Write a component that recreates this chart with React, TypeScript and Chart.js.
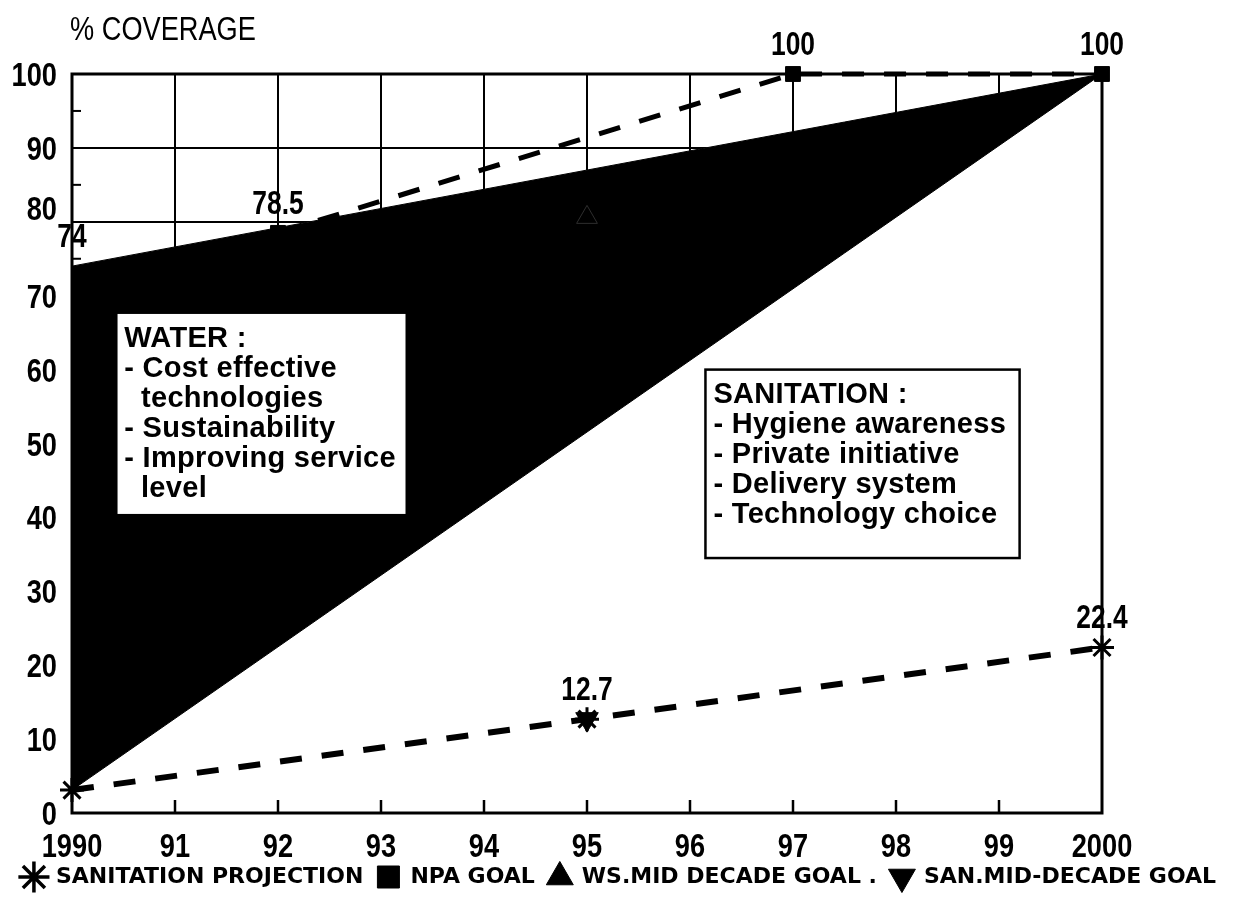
import React, { useEffect, useRef } from 'react';
import { Chart, registerables } from 'chart.js';

Chart.register(...registerables);

// ---------- data ----------
const years = [1990, 1991, 1992, 1993, 1994, 1995, 1996, 1997, 1998, 1999, 2000];
const xTickLabels = ['1990', '91', '92', '93', '94', '95', '96', '97', '98', '99', '2000'];
const yTicks = [0, 10, 20, 30, 40, 50, 60, 70, 80, 90, 100];
const yTickLabels = ['0', '10', '20', '30', '40', '50', '60', '70', '80', '90', '100'];
const raisedTick = 80;

const waterYears = [1990, 2000];
const waterUpper = [74, 100];
const waterLabels = ['74', ''];
const sanTarget = [3.1, 100];

const sanYears = [1990, 1995, 2000];
const sanProjection = [3.1, 12.7, 22.4];
const sanLabels = ['', '12.7', '22.4'];

const npaYears = [1992, 1997, 2000];
const npaGoal = [78.5, 100, 100];
const npaLabels = ['78.5', '100', '100'];

const wsYears = [1995];
const wsGoal = [80.6];

const sanMidYears = [1995];
const sanMidGoal = [12.7];

const legendNames = ['SANITATION PROJECTION', 'NPA GOAL', 'WS.MID DECADE GOAL .', 'SAN.MID-DECADE GOAL'];
const axisTitle = '% COVERAGE';
const waterNotes = ['WATER :', '- Cost effective', '  technologies', '- Sustainability', '- Improving service', '  level'];
const sanitationNotes = ['SANITATION :', '- Hygiene awareness', '- Private initiative', '- Delivery system', '- Technology choice'];

// ---------- styles ----------
const SANS = "'Liberation Sans', Arial, sans-serif";
const WIDE = "'DejaVu Sans', sans-serif";
const NARROW_SCALE = 0.8;

const yMin = yTicks[0];
const yMax = yTicks[yTicks.length - 1];

const pts = (xs: number[], ys: number[]) => xs.map((x, i) => ({ x, y: ys[i] }));

function narrowText(ctx: CanvasRenderingContext2D, text: string, x: number, y: number, align: 'left' | 'center' | 'right') {
  ctx.save();
  ctx.translate(x, y);
  ctx.scale(NARROW_SCALE, 1);
  ctx.textAlign = align;
  ctx.textBaseline = 'alphabetic';
  ctx.fillText(text, 0, 0);
  ctx.restore();
}

const decorPlugin = {
  id: 'decor',
  beforeDatasetsDraw(chart: any) {
    const { ctx, chartArea: a, scales } = chart;
    const x = scales.x, y = scales.y;
    const n = waterYears.length - 1;
    ctx.save();
    ctx.beginPath();
    ctx.moveTo(x.getPixelForValue(waterYears[0]), y.getPixelForValue(yMax));
    ctx.lineTo(x.getPixelForValue(waterYears[n]), y.getPixelForValue(yMax));
    ctx.lineTo(x.getPixelForValue(waterYears[n]), y.getPixelForValue(waterUpper[n]));
    ctx.lineTo(x.getPixelForValue(waterYears[0]), y.getPixelForValue(waterUpper[0]));
    ctx.closePath();
    ctx.clip();
    ctx.strokeStyle = '#000';
    ctx.lineWidth = 2;
    years.slice(1, -1).forEach((v) => {
      const px = Math.round(x.getPixelForValue(v));
      ctx.beginPath();
      ctx.moveTo(px, a.top);
      ctx.lineTo(px, a.bottom);
      ctx.stroke();
    });
    yTicks.slice(1, -1).forEach((v) => {
      const py = Math.round(y.getPixelForValue(v));
      ctx.beginPath();
      ctx.moveTo(a.left, py);
      ctx.lineTo(a.right, py);
      ctx.stroke();
    });
    ctx.restore();
  },
  afterDatasetsDraw(chart: any) {
    const { ctx, chartArea: a, scales } = chart;
    const x = scales.x, y = scales.y;
    ctx.save();
    // frame
    ctx.strokeStyle = '#000';
    ctx.lineWidth = 3;
    ctx.strokeRect(a.left, a.top, a.right - a.left, a.bottom - a.top);
    // inner minor ticks on left axis
    ctx.lineWidth = 2;
    yTicks.slice(0, -1).forEach((v, i) => {
      const py = y.getPixelForValue((v + yTicks[i + 1]) / 2);
      ctx.beginPath();
      ctx.moveTo(a.left, py);
      ctx.lineTo(a.left + 9, py);
      ctx.stroke();
    });
    // inner ticks on bottom axis
    ctx.lineWidth = 2.5;
    years.slice(1, -1).forEach((v) => {
      const px = x.getPixelForValue(v);
      ctx.beginPath();
      ctx.moveTo(px, a.bottom);
      ctx.lineTo(px, a.bottom - 13);
      ctx.stroke();
    });

    ctx.fillStyle = '#000';
    // axis tick labels (condensed)
    ctx.font = `bold 34px ${SANS}`;
    yTicks.forEach((v, i) => {
      const py = y.getPixelForValue(v) + (v === raisedTick ? -2 : 12);
      narrowText(ctx, yTickLabels[i], a.left - 15, py, 'right');
    });
    years.forEach((v, i) => {
      narrowText(ctx, xTickLabels[i], x.getPixelForValue(v), a.bottom + 44, 'center');
    });

    // point value labels
    ctx.font = `bold 33px ${SANS}`;
    const lab = (xs: number[], ys: number[], ls: string[]) => {
      xs.forEach((xv, i) => {
        if (!ls[i]) return;
        narrowText(ctx, ls[i], x.getPixelForValue(xv), y.getPixelForValue(ys[i]) - 19, 'center');
      });
    };
    lab(waterYears, waterUpper, waterLabels);
    lab(npaYears, npaGoal, npaLabels);
    lab(sanYears, sanProjection, sanLabels);

    // axis title
    ctx.font = `34px ${SANS}`;
    narrowText(ctx, axisTitle, 70, 40, 'left');

    // note boxes
    const box = (lines: string[], x0: number, x1: number, y0: number, y1: number, first: number) => {
      const l = x.getPixelForValue(x0), r = x.getPixelForValue(x1);
      const t = y.getPixelForValue(y0), b = y.getPixelForValue(y1);
      ctx.fillStyle = '#fff';
      ctx.fillRect(l, t, r - l, b - t);
      ctx.strokeStyle = '#000';
      ctx.lineWidth = 2.5;
      ctx.strokeRect(l, t, r - l, b - t);
      ctx.fillStyle = '#000';
      ctx.font = `bold 29px ${SANS}`;
      (ctx as any).letterSpacing = '0.3px';
      ctx.textAlign = 'left';
      ctx.textBaseline = 'alphabetic';
      lines.forEach((s, i) => ctx.fillText(s, l + 8, t + first + i * 30));
      (ctx as any).letterSpacing = '0px';
    };
    box(waterNotes, 1990.43, 1993.25, 67.7, 40.3, 34);
    box(sanitationNotes, 1996.15, 1999.2, 60.0, 34.5, 33);
    ctx.restore();
  },
};

export default function App() {
  const ref = useRef<HTMLCanvasElement>(null);
  useEffect(() => {
    const canvas = ref.current!;
    const chart = new Chart(canvas, {
      type: 'line',
      data: {
        datasets: [
          {
            label: 'water',
            data: pts(waterYears, waterUpper),
            borderColor: '#000',
            borderWidth: 1,
            backgroundColor: '#000',
            fill: '+1',
            pointRadius: 0,
            order: 10,
            clip: false,
          } as any,
          {
            label: 'target',
            data: pts(waterYears, sanTarget),
            borderColor: '#000',
            borderWidth: 1,
            backgroundColor: '#000',
            fill: false,
            pointRadius: 0,
            order: 10,
            clip: false,
          } as any,
          {
            label: legendNames[0],
            data: pts(sanYears, sanProjection),
            borderColor: '#000',
            borderWidth: 6,
            borderDash: [22, 20],
            borderCapStyle: 'butt',
            fill: false,
            pointStyle: 'star',
            pointRadius: 12,
            pointBorderWidth: 3,
            pointBorderColor: '#000',
            pointBackgroundColor: '#000',
            clip: false,
          } as any,
          {
            label: legendNames[1],
            data: pts(npaYears, npaGoal),
            borderColor: '#000',
            borderWidth: 5,
            borderDash: [22, 20],
            borderCapStyle: 'butt',
            fill: false,
            pointStyle: 'rect',
            pointRadius: 10.5,
            pointBorderWidth: 1,
            pointBorderColor: '#000',
            pointBackgroundColor: '#000',
            clip: false,
          } as any,
          {
            label: legendNames[2],
            data: pts(wsYears, wsGoal),
            showLine: false,
            fill: false,
            borderColor: '#000',
            pointStyle: 'triangle',
            pointRadius: 12,
            pointBorderWidth: 1,
            pointBorderColor: '#2e2e2e',
            pointBackgroundColor: '#000',
            clip: false,
          } as any,
          {
            label: legendNames[3],
            data: pts(sanMidYears, sanMidGoal),
            showLine: false,
            fill: false,
            borderColor: '#000',
            pointStyle: 'triangle',
            pointRotation: 180,
            pointRadius: 13,
            pointBorderWidth: 1,
            pointBorderColor: '#000',
            pointBackgroundColor: '#000',
            clip: false,
          } as any,
        ],
      },
      options: {
        responsive: false,
        animation: false,
        events: [],
        layout: { padding: { top: 74, left: 0, right: 0, bottom: 0 } },
        scales: {
          x: {
            type: 'linear',
            min: years[0],
            max: years[years.length - 1],
            grid: { display: false, drawTicks: false },
            border: { display: false },
            ticks: { display: false, stepSize: 1 },
            afterFit: (s: any) => { s.height = 39; },
          },
          y: {
            type: 'linear',
            min: yMin,
            max: yMax,
            grid: { display: false, drawTicks: false },
            border: { display: false },
            ticks: { display: false, stepSize: 10 },
            afterFit: (s: any) => { s.width = 72; },
          },
          yRight: {
            type: 'linear',
            position: 'right',
            display: true,
            min: 0,
            max: 1,
            grid: { display: false, drawTicks: false },
            border: { display: false },
            ticks: { display: false },
            afterFit: (s: any) => { s.width = 137; },
          },
        } as any,
        plugins: {
          tooltip: { enabled: false },
          title: { display: false },
          legend: {
            display: true,
            position: 'bottom',
            labels: {
              usePointStyle: true,
              padding: 14,
              color: '#000',
              font: { family: WIDE, size: 22, weight: 'bold' },
              generateLabels: (c: any) =>
                Chart.defaults.plugins.legend.labels
                  .generateLabels(c)
                  .filter((it: any) => it.datasetIndex >= 2)
                  .map((it: any) => ({
                    ...it,
                    fillStyle: '#000',
                    strokeStyle: '#000',
                    lineWidth: it.pointStyle === 'star' ? 3.5 : 1,
                    lineDash: [],
                  })),
            },
          },
        },
      } as any,
      plugins: [decorPlugin],
    });
    return () => chart.destroy();
  }, []);
  return (
    <div style={{ position: 'fixed', left: 0, top: 0, width: 1239, height: 898, background: '#fff' }}>
      <canvas ref={ref} width={1239} height={898} style={{ display: 'block', width: 1239, height: 898 }} />
    </div>
  );
}
